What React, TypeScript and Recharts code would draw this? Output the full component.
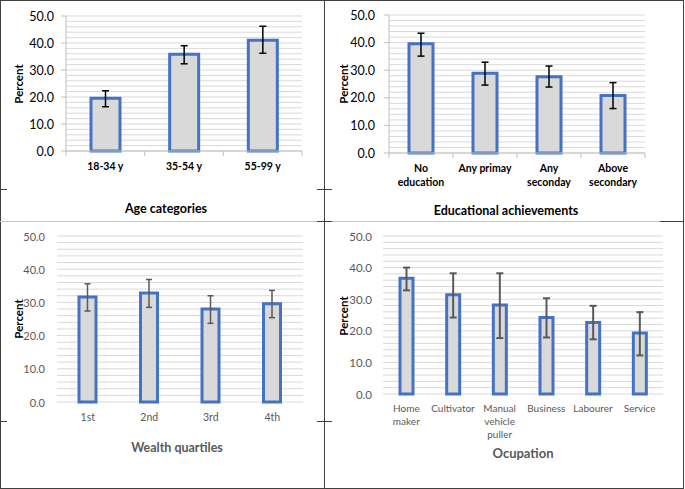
import React from 'react';
import { BarChart, Bar, XAxis, YAxis, CartesianGrid, ErrorBar } from 'recharts';

const FONT = 'Lato, "Open Sans", sans-serif';

const gridTicks = [0, 2, 4, 6, 8, 10, 12, 14, 16, 18, 20, 22, 24, 26, 28, 30, 32, 34, 36, 38, 40, 42, 44, 46, 48, 50];

const ageCategories = ['18-34 y', '35-54 y', '55-99 y'];
const ageValues = [19.5, 35.8, 41.0];
const ageLower = [16.4, 32.3, 36.2];
const ageUpper = [22.3, 39.0, 46.2];

const eduCategories = ['No education', 'Any primay', 'Any seconday', 'Above secondary'];
const eduValues = [39.6, 28.9, 27.6, 20.8];
const eduLower = [35.1, 24.6, 23.9, 16.1];
const eduUpper = [43.4, 32.9, 31.5, 25.5];

const wealthCategories = ['1st', '2nd', '3rd', '4th'];
const wealthValues = [31.6, 32.8, 28.0, 29.6];
const wealthLower = [27.4, 28.5, 23.7, 25.4];
const wealthUpper = [35.6, 36.9, 32.0, 33.6];

const occCategories = ['Home maker', 'Cultivator', 'Manual vehicle puller', 'Business', 'Labourer', 'Service'];
const occValues = [36.6, 31.4, 28.2, 24.2, 22.6, 19.3];
const occLower = [32.8, 24.2, 17.7, 17.9, 17.3, 12.2];
const occUpper = [40.0, 38.2, 38.2, 30.3, 27.9, 25.9];

// greedy word wrap on character count
function wrap(label: string, maxChars: number) {
  const lines: string[] = [];
  label.split(' ').forEach((w) => {
    const last = lines[lines.length - 1];
    if (last !== undefined && (last + ' ' + w).length <= maxChars) lines[lines.length - 1] = last + ' ' + w;
    else lines.push(w);
  });
  return lines;
}

interface PanelProps {
  left: number;
  top: number;
  width: number;
  height: number;
  plotLeft: number;
  plotRight: number;
  plotTop: number;
  plotBottom: number;
  categories: string[];
  values: number[];
  lower: number[];
  upper: number[];
  title: string;
  titleX: number;
  titleY: number;
  titleSize: number;
  percentY: number;
  boxed: boolean;
  textColor: string;
  tickSize: number;
  tickGap: number;
  catSize: number;
  catBold: boolean;
  catGap: number;
  lineHeight: number;
  wrapChars: number;
  barSize: number;
  errColor: string;
  errWidth: number;
  errCap: number;
}

function Panel(p: PanelProps) {
  const data = p.categories.map((name, i) => ({
    name,
    value: p.values[i],
    err: [p.values[i] - p.lower[i], p.upper[i] - p.values[i]],
  }));
  const bw = (p.plotRight - p.plotLeft) / p.categories.length;
  const axisColor = '#bfbfbf';

  const renderXTick = (props: any) => {
    const { x, index, payload } = props;
    const lines = wrap(String(payload.value), p.wrapChars);
    return (
      <g>
        {p.boxed && (
          <line x1={x - bw / 2} x2={x - bw / 2} y1={p.plotBottom} y2={p.plotBottom + 5} stroke={axisColor} />
        )}
        {p.boxed && index === p.categories.length - 1 && (
          <line x1={x + bw / 2} x2={x + bw / 2} y1={p.plotBottom} y2={p.plotBottom + 5} stroke={axisColor} />
        )}
        {lines.map((ln, i) => (
          <text
            key={i}
            x={x}
            y={p.plotBottom + p.catGap + i * p.lineHeight}
            textAnchor="middle"
            dominantBaseline="central"
            fill={p.textColor}
            style={{ fontFamily: FONT, fontSize: p.catSize, fontWeight: p.catBold ? 700 : 400 }}
          >
            {ln}
          </text>
        ))}
      </g>
    );
  };

  const renderYTick = (props: any) => {
    const { y, payload } = props;
    if (payload.value % 10 !== 0) return <g />;
    return (
      <g>
        {p.boxed && <line x1={p.plotLeft - 5} x2={p.plotLeft} y1={y} y2={y} stroke={axisColor} />}
        <text
          x={p.plotLeft - p.tickGap}
          y={y}
          textAnchor="end"
          dominantBaseline="central"
          fill={p.textColor}
          style={{ fontFamily: FONT, fontSize: p.tickSize }}
        >
          {payload.value.toFixed(1)}
        </text>
      </g>
    );
  };

  return (
    <div style={{ position: 'absolute', left: p.left, top: p.top }}>
      <BarChart
        width={p.width}
        height={p.height}
        data={data}
        margin={{ top: p.plotTop, right: p.width - p.plotRight, bottom: 0, left: 0 }}
        barCategoryGap={0}
      >
        <CartesianGrid vertical={false} stroke="#d9d9d9" />
        <XAxis
          dataKey="name"
          height={p.height - p.plotBottom}
          interval={0}
          tickLine={false}
          axisLine={p.boxed ? { stroke: axisColor } : false}
          tick={renderXTick}
          label={{
            content: () => (
              <text
                x={p.titleX}
                y={p.titleY}
                textAnchor="middle"
                dominantBaseline="central"
                fill={p.textColor}
                style={{ fontFamily: FONT, fontSize: p.titleSize, fontWeight: 700 }}
              >
                {p.title}
              </text>
            ),
          }}
        />
        <YAxis
          width={p.plotLeft}
          domain={[0, 50]}
          ticks={gridTicks}
          interval={0}
          tickLine={false}
          axisLine={p.boxed ? { stroke: axisColor } : false}
          tick={renderYTick}
          label={{
            content: () => (
              <text
                x={18}
                y={p.percentY}
                textAnchor="middle"
                dominantBaseline="central"
                transform={`rotate(-90 18 ${p.percentY})`}
                fill="#000"
                style={{ fontFamily: FONT, fontSize: 11.5, fontWeight: 700 }}
              >
                Percent
              </text>
            ),
          }}
        />
        <Bar
          dataKey="value"
          fill="#d9d9d9"
          stroke="#4472c4"
          strokeWidth={3}
          barSize={p.barSize}
          isAnimationActive={false}
        >
          <ErrorBar dataKey="err" direction="y" width={p.errCap} stroke={p.errColor} strokeWidth={p.errWidth} />
        </Bar>
      </BarChart>
    </div>
  );
}

const frame = '#404040';

function Line({ x, y, w, h, c }: { x: number; y: number; w: number; h: number; c: string }) {
  return <div style={{ position: 'absolute', left: x, top: y, width: w, height: h, background: c }} />;
}

export default function App() {
  return (
    <div style={{ position: 'absolute', left: 0, top: 0, width: 685, height: 489, background: '#fff', overflow: 'hidden' }}>
      <Line x={0} y={0} w={684} h={1} c={frame} />
      <Line x={0} y={0} w={1} h={489} c={frame} />
      <Line x={324} y={0} w={1} h={489} c={frame} />
      <Line x={683} y={0} w={1} h={489} c={frame} />
      <Line x={0} y={488} w={684} h={1} c={frame} />
      <Line x={0} y={221} w={660} h={1} c="#c6c6c6" />
      <Line x={660} y={221} w={24} h={1} c={frame} />
      <Line x={0} y={189} w={7} h={1} c={frame} />
      <Line x={317} y={189} w={15} h={1} c={frame} />
      <Line x={317} y={221} w={15} h={1} c={frame} />
      <Line x={0} y={421} w={7} h={1} c={frame} />
      <Line x={317} y={421} w={15} h={1} c={frame} />

      <Panel
        left={0} top={0} width={325} height={222}
        plotLeft={66} plotRight={302} plotTop={16} plotBottom={151}
        categories={ageCategories} values={ageValues} lower={ageLower} upper={ageUpper}
        title="Age categories" titleX={166} titleY={208} titleSize={12.5}
        percentY={84} boxed textColor="#000" tickSize={12.5} tickGap={12}
        catSize={10.5} catBold catGap={15} lineHeight={14} wrapChars={20} barSize={29}
        errColor="#000" errWidth={1.5} errCap={3.5}
      />
      <Panel
        left={325} top={0} width={358} height={222}
        plotLeft={64} plotRight={320} plotTop={15} plotBottom={153}
        categories={eduCategories} values={eduValues} lower={eduLower} upper={eduUpper}
        title="Educational achievements" titleX={181} titleY={210} titleSize={12.5}
        percentY={84} boxed textColor="#000" tickSize={12.5} tickGap={14}
        catSize={10.5} catBold catGap={15} lineHeight={14} wrapChars={10} barSize={24}
        errColor="#000" errWidth={1.5} errCap={3.5}
      />
      <Panel
        left={0} top={222} width={325} height={267}
        plotLeft={57} plotRight={303} plotTop={14} plotBottom={180}
        categories={wealthCategories} values={wealthValues} lower={wealthLower} upper={wealthUpper}
        title="Wealth quartiles" titleX={177} titleY={225} titleSize={12.5}
        percentY={97} boxed={false} textColor="#595959" tickSize={11} tickGap={12}
        catSize={10.5} catBold={false} catGap={15} lineHeight={13} wrapChars={20} barSize={17}
        errColor="#595959" errWidth={1.5} errCap={3}
      />
      <Panel
        left={325} top={222} width={358} height={267}
        plotLeft={58} plotRight={338} plotTop={14} plotBottom={172}
        categories={occCategories} values={occValues} lower={occLower} upper={occUpper}
        title="Ocupation" titleX={198} titleY={231} titleSize={13}
        percentY={94} boxed={false} textColor="#595959" tickSize={11.5} tickGap={11}
        catSize={10} catBold={false} catGap={14} lineHeight={13} wrapChars={9} barSize={13}
        errColor="#595959" errWidth={2} errCap={3.5}
      />
    </div>
  );
}
